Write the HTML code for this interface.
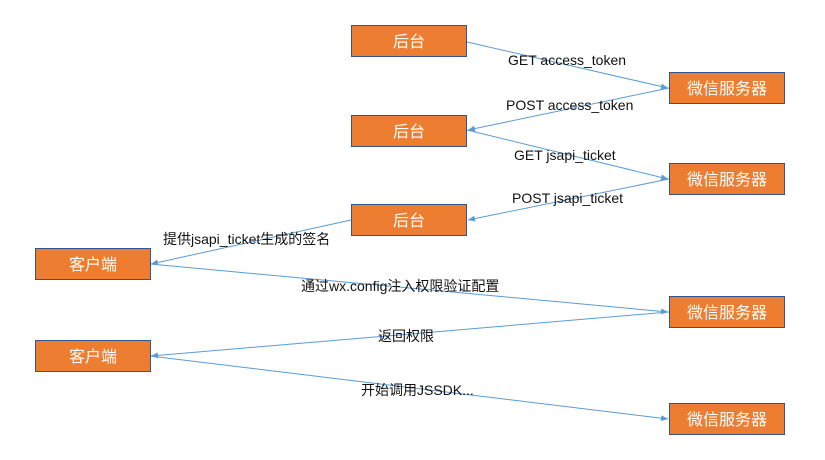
<!DOCTYPE html>
<html><head><meta charset="utf-8"><style>
html,body{margin:0;padding:0;background:#fff;}
svg{display:block;}
text{font-family:"Liberation Sans","Noto Sans CJK SC",sans-serif;}
.b{fill:#ed7d31;stroke:#2f5597;stroke-width:1;}
.bt{fill:#fff;font-size:16px;text-anchor:middle;}
.l{stroke:#5b9bd5;stroke-width:1;fill:none;marker-end:url(#a);}
.t{fill:#111;font-size:14px;}
</style></head><body>
<svg width="825" height="460" viewBox="0 0 825 460" xmlns="http://www.w3.org/2000/svg">
<defs><marker id="a" markerWidth="8" markerHeight="8" refX="7" refY="4" orient="auto" markerUnits="userSpaceOnUse"><path d="M0,1 L7,4 L0,7 Z" fill="#5b9bd5"/></marker></defs>
<line class="l" x1="467" y1="42" x2="668" y2="88"/>
<line class="l" x1="669" y1="88" x2="468" y2="130"/>
<line class="l" x1="467" y1="130" x2="668" y2="179"/>
<line class="l" x1="669" y1="179" x2="468" y2="220"/>
<line class="l" x1="351" y1="220" x2="151" y2="264"/>
<line class="l" x1="150" y1="264" x2="668" y2="312"/>
<line class="l" x1="669" y1="312" x2="151" y2="356"/>
<line class="l" x1="150" y1="356" x2="668" y2="419"/>

<rect class="b" x="351.5" y="25.5" width="115" height="31"/><text class="bt" x="409" y="47">后台</text>
<rect class="b" x="351.5" y="115.5" width="115" height="31"/><text class="bt" x="409" y="137">后台</text>
<rect class="b" x="351.5" y="204.5" width="115" height="31"/><text class="bt" x="409" y="226">后台</text>
<rect class="b" x="669.5" y="72.5" width="115" height="31"/><text class="bt" x="727" y="94">微信服务器</text>
<rect class="b" x="669.5" y="163.5" width="115" height="31"/><text class="bt" x="727" y="185">微信服务器</text>
<rect class="b" x="669.5" y="296.5" width="115" height="31"/><text class="bt" x="727" y="318">微信服务器</text>
<rect class="b" x="669.5" y="403.5" width="115" height="31"/><text class="bt" x="727" y="425">微信服务器</text>
<rect class="b" x="35.5" y="248.5" width="115" height="31"/><text class="bt" x="93" y="270">客户端</text>
<rect class="b" x="35.5" y="340.5" width="115" height="31"/><text class="bt" x="93" y="362">客户端</text>

<text class="t" x="508" y="65">GET access_token</text>
<text class="t" x="506" y="110">POST access_token</text>
<text class="t" x="514" y="160">GET jsapi_ticket</text>
<text class="t" x="512" y="203">POST jsapi_ticket</text>
<text class="t" x="163" y="244">提供jsapi_ticket生成的签名</text>
<text class="t" x="301" y="291">通过wx.config注入权限验证配置</text>
<text class="t" x="378" y="341">返回权限</text>
<text class="t" x="361" y="395">开始调用JSSDK...</text>
</svg>
</body></html>
